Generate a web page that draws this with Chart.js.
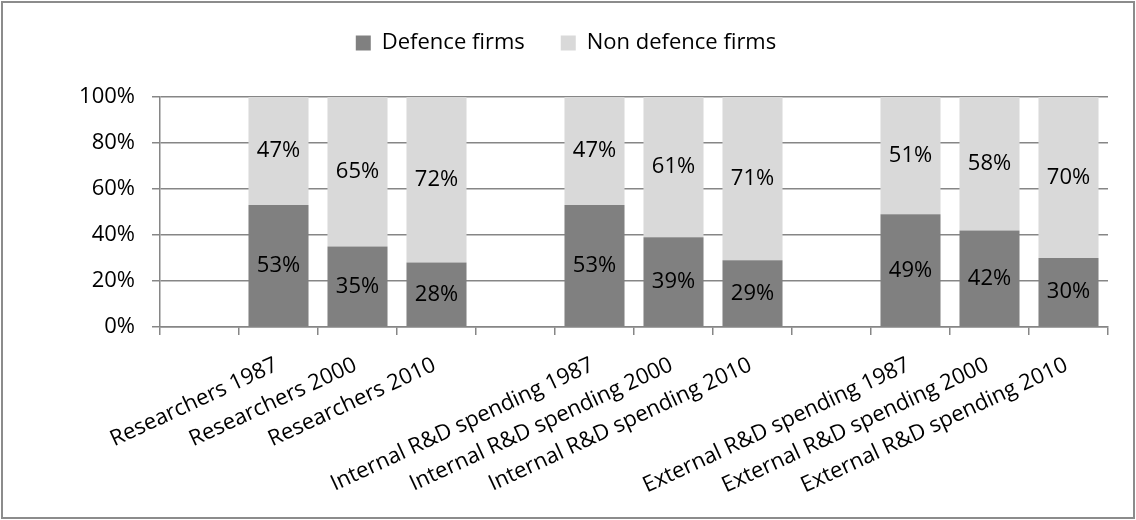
<!DOCTYPE html>
<html>
<head>
<meta charset="utf-8">
<script src="https://cdn.jsdelivr.net/npm/chart.js@4.4.1/dist/chart.umd.min.js"></script>
<style>
    html, body { margin: 0; padding: 0; background: #fff; }
    #frame {
        position: absolute; left: 1px; top: 1px;
        width: 1134px; height: 518px;
        box-sizing: border-box;
        border: 2px solid #8c8c8c;
        background: #fff;
    }
    #box { position: absolute; left: 1px; top: 1px; width: 1130px; height: 514px; }
</style>
</head>
<body>
<div id="frame"><div id="box"><canvas id="charts-firms"></canvas></div></div>
<script>
// categories (empty ones are the gaps between the groups)
var labels = ['', 'Researchers 1987', 'Researchers 2000', 'Researchers 2010',
    '', 'Internal R&D spending 1987', 'Internal R&D spending 2000', 'Internal R&D spending 2010',
    '', 'External R&D spending 1987', 'External R&D spending 2000', 'External R&D spending 2010'];
var defenceFirms = [null, 53, 35, 28, null, 53, 39, 29, null, 49, 42, 30];
var nonDefenceFirms = [null, 47, 65, 72, null, 47, 61, 71, null, 51, 58, 70];
var yTicks = [0, 20, 40, 60, 80, 100];

var fontFamily = "'Open Sans', sans-serif";
var fontSize = 22;
var gridColor = '#868686';

// draws the % value in the middle of every bar piece
var barValues = {
    id: 'barValues',
    afterDatasetsDraw: function(chart){
        var ctx = chart.ctx;
        ctx.save();
        ctx.font = fontSize + 'px ' + fontFamily;
        ctx.fillStyle = '#000';
        ctx.textAlign = 'center';
        ctx.textBaseline = 'middle';
        chart.data.datasets.forEach(function(ds, i){
            var meta = chart.getDatasetMeta(i);
            meta.data.forEach(function(bar, j){
                if(ds.data[j] == null) return;
                ctx.fillText(ds.data[j] + '%', bar.x, (bar.y + bar.base) / 2);
            });
        });
        ctx.restore();
    }
};

// fixed legend height so the plot starts where the original does,
// and the legend sits a bit right of the canvas centre like the original
var legendPlace = {
    id: 'legendPlace',
    beforeInit: function(chart){
        var fit = chart.legend.fit;
        chart.legend.fit = function(){
            fit.bind(chart.legend)();
            this.height = 101;
        };
    },
    afterLayout: function(chart){
        chart.legend.left = 20;
        chart.legend.right = 1104;
    }
};

var config = {
    type: 'bar',
    data: {
        labels: labels,
        datasets: [
            {
                label: 'Defence firms',
                data: defenceFirms,
                backgroundColor: '#808080',
            },
            {
                label: 'Non defence firms',
                data: nonDefenceFirms,
                backgroundColor: '#d9d9d9',
            }
        ]
    },
    options: {
        responsive: true,
        maintainAspectRatio: false,
        animation: false,
        categoryPercentage: 1,
        barPercentage: 0.76,
        layout: {
            padding: { left: 0, right: 26, top: -8, bottom: 0 }
        },
        plugins: {
            legend: {
                position: 'top',
                labels: {
                    color: '#000',
                    boxWidth: 15,
                    boxHeight: 15,
                    padding: 36,
                    font: { family: fontFamily, size: fontSize }
                }
            },
            title: { display: false },
            tooltip: { enabled: false }
        },
        scales: {
            x: {
                stacked: true,
                grid: {
                    offset: true,
                    drawOnChartArea: false,
                    color: gridColor,
                    lineWidth: 1.5,
                    tickLength: 8
                },
                border: { color: gridColor, width: 1.5 },
                ticks: {
                    autoSkip: false,
                    minRotation: 25,
                    maxRotation: 25,
                    padding: 17,
                    labelOffset: -2,
                    color: '#000',
                    font: { family: fontFamily, size: fontSize }
                },
                afterFit: function(scale){ scale.height = 191; }
            },
            y: {
                stacked: true,
                min: 0,
                max: 100,
                afterBuildTicks: function(scale){
                    scale.ticks = yTicks.map(function(v){ return { value: v }; });
                },
                grid: {
                    color: gridColor,
                    lineWidth: 1.5,
                    tickLength: 8
                },
                border: { color: gridColor, width: 1.5 },
                ticks: {
                    padding: 17,
                    color: '#000',
                    font: { family: fontFamily, size: fontSize },
                    callback: function(v){ return v + '%'; }
                },
                afterFit: function(scale){ scale.width = 156; }
            }
        }
    },
    plugins: [barValues, legendPlace]
};

new Chart(document.getElementById('charts-firms'), config);
</script>
</body>
</html>
